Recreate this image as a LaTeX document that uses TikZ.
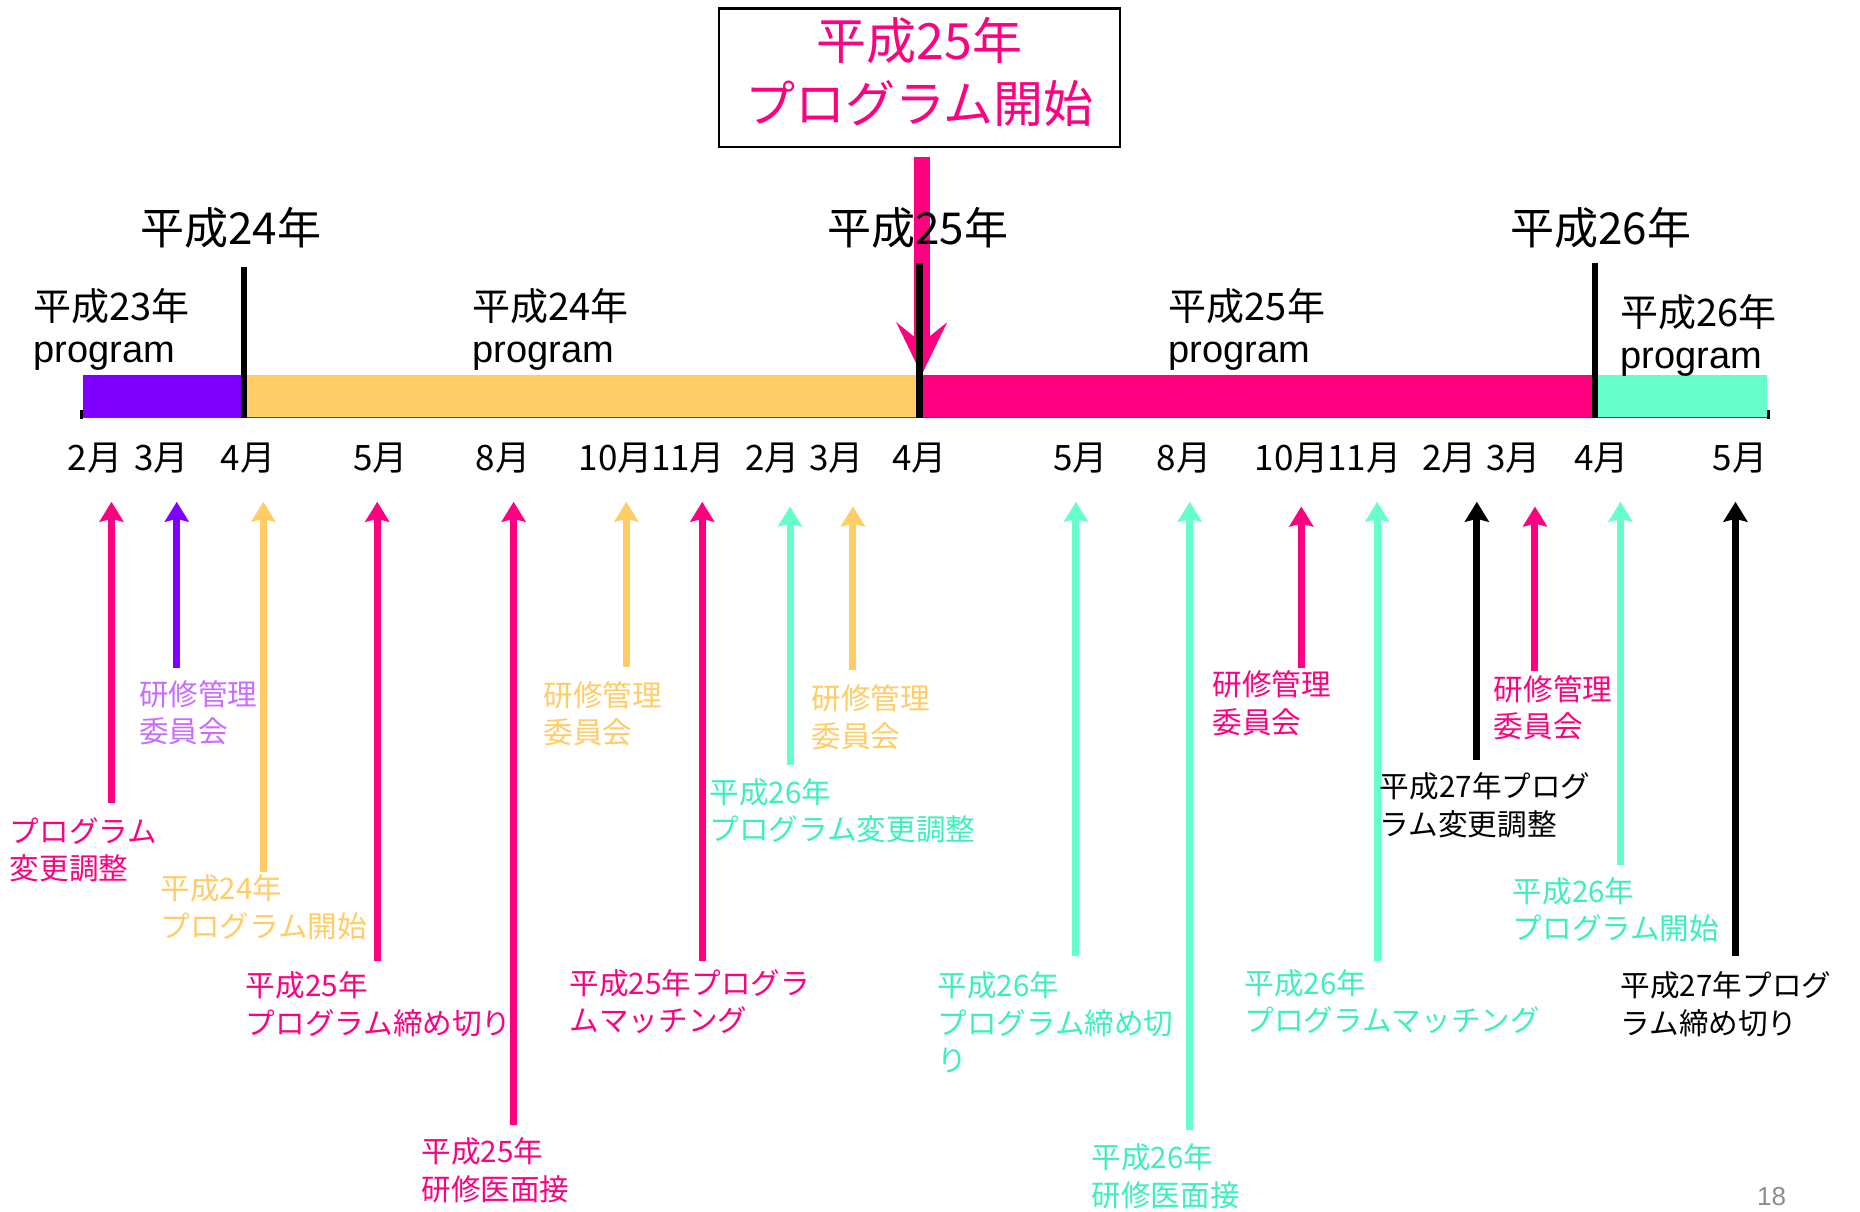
\documentclass[tikz,border=0pt]{standalone}
\usepackage{fontspec}
\setmainfont{Liberation Sans}
\newfontfamily\jp{Noto Sans CJK JP}
\usetikzlibrary{arrows.meta}
\definecolor{pinkc}{RGB}{255,0,128}
\definecolor{purpc}{RGB}{128,0,255}
\definecolor{purpt}{RGB}{200,110,255}
\definecolor{orangec}{RGB}{255,204,102}
\definecolor{tealc}{RGB}{102,255,204}
\definecolor{tealt}{RGB}{60,240,190}
\tikzset{
  arr/.style={line width=3.5pt,-{Stealth[length=10pt,width=12pt,inset=1.5pt]}},
  lbl/.style={anchor=north west,inner sep=0pt,align=left,font=\jp\fontsize{14.8}{18.7}\selectfont},
  month/.style={inner sep=0pt,font=\jp\fontsize{17.5}{20}\selectfont},
  yearlbl/.style={anchor=west,inner sep=0pt,font=\jp\fontsize{22}{26}\selectfont},
  proglbl/.style={anchor=north west,inner sep=0pt,align=left,font=\fontsize{19}{21}\selectfont},
  divider/.style={line width=3pt,black},
}
\begin{document}
\begin{tikzpicture}[x=0.5931pt,y=-0.5931pt]
\useasboundingbox (0,0) rectangle (1568,1021);
% title box
\node[draw=black,line width=1.2pt,minimum width=338*0.5931pt,minimum height=117*0.5931pt,inner sep=0pt] (title) at (775,65.5) {};
\node[align=center,inner sep=0pt,text=pinkc,font=\jp\fontsize{25}{31.4}\selectfont] (titletxt) at (775,61) {平成25年\\プログラム開始};
% big pink arrow
\coordinate (bigtop) at (777,132);
\coordinate (bigtip) at (777,316);
\draw[line width=8pt,pinkc,-{Stealth[length=26pt,width=25pt,inset=10pt]}] (bigtop) -- (bigtip);
% timeline bars
\fill[purpc] (70,316) rectangle (206,352);
\fill[orangec] (206,316) rectangle (775,352);
\fill[pinkc] (775,316) rectangle (1345,352);
\fill[tealc] (1345,316) rectangle (1490,352);
\coordinate (bl) at (68,352);
\coordinate (br) at (1492,352);
\draw[line width=0.9pt,black!70] (bl) -- (br);
\draw[line width=1.5pt,black] (69,346) -- (69,353) (1491,346) -- (1491,353);
% dividers
\coordinate (d1t) at (206,225); \coordinate (d1b) at (206,352);
\coordinate (d2t) at (775,222); \coordinate (d2b) at (775,352);
\coordinate (d3t) at (1345,222); \coordinate (d3b) at (1345,352);
\draw[divider] (d1t) -- (d1b);
\draw[divider,line width=3.5pt] (d2t) -- (d2b);
\draw[divider] (d3t) -- (d3b);
% year labels
\node[yearlbl] (y24) at (118,192) {平成24年};
\node[yearlbl] (y25) at (697,192) {平成25年};
\node[yearlbl] (y26) at (1273,192) {平成26年};
% program labels
\node[proglbl] (p23) at (28,243) {{\jp 平成23年}\\program};
\node[proglbl] (p24) at (398,243) {{\jp 平成24年}\\program};
\node[proglbl] (p25) at (985,243) {{\jp 平成25年}\\program};
\node[proglbl] (p26) at (1366,248) {{\jp 平成26年}\\program};
% months
\node[month] (m1) at (80,386) {2月};
\node[month] (m2) at (136,386) {3月};
\node[month] (m3) at (209,386) {4月};
\node[month] (m4) at (321,386) {5月};
\node[month] (m5) at (424,386) {8月};
\node[month] (m6) at (519,386) {10月};
\node[month] (m7) at (580,386) {11月};
\node[month] (m8) at (651,386) {2月};
\node[month] (m9) at (705,386) {3月};
\node[month] (m10) at (775,386) {4月};
\node[month] (m11) at (911,386) {5月};
\node[month] (m12) at (998,386) {8月};
\node[month] (m13) at (1089,386) {10月};
\node[month] (m14) at (1150,386) {11月};
\node[month] (m15) at (1222,386) {2月};
\node[month] (m16) at (1276,386) {3月};
\node[month] (m17) at (1350,386) {4月};
\node[month] (m18) at (1467,386) {5月};
% event arrows
\coordinate (a1t) at (94,423);   \coordinate (a1b) at (94,677);
\coordinate (a2t) at (149,423);  \coordinate (a2b) at (149,563);
\coordinate (a3t) at (222,423);  \coordinate (a3b) at (222,735);
\coordinate (a4t) at (318,423);  \coordinate (a4b) at (318,810);
\coordinate (a5t) at (433,423);  \coordinate (a5b) at (433,948);
\coordinate (a6t) at (528,423);  \coordinate (a6b) at (528,562);
\coordinate (a7t) at (592,423);  \coordinate (a7b) at (592,810);
\coordinate (a8t) at (666,427);  \coordinate (a8b) at (666,645);
\coordinate (a9t) at (719,427);  \coordinate (a9b) at (719,565);
\coordinate (a10t) at (907,423); \coordinate (a10b) at (907,806);
\coordinate (a11t) at (1003,423);\coordinate (a11b) at (1003,953);
\coordinate (a12t) at (1097,427);\coordinate (a12b) at (1097,563);
\coordinate (a13t) at (1161,423);\coordinate (a13b) at (1161,810);
\coordinate (a14t) at (1245,423);\coordinate (a14b) at (1245,641);
\coordinate (a15t) at (1294,427);\coordinate (a15b) at (1294,566);
\coordinate (a16t) at (1366,423);\coordinate (a16b) at (1366,729);
\coordinate (a17t) at (1463,423);\coordinate (a17b) at (1463,806);
\draw[arr,pinkc] (a1b) -- (a1t);
\draw[arr,purpc] (a2b) -- (a2t);
\draw[arr,orangec] (a3b) -- (a3t);
\draw[arr,pinkc] (a4b) -- (a4t);
\draw[arr,pinkc] (a5b) -- (a5t);
\draw[arr,orangec] (a6b) -- (a6t);
\draw[arr,pinkc] (a7b) -- (a7t);
\draw[arr,tealc] (a8b) -- (a8t);
\draw[arr,orangec] (a9b) -- (a9t);
\draw[arr,tealc] (a10b) -- (a10t);
\draw[arr,tealc] (a11b) -- (a11t);
\draw[arr,pinkc] (a12b) -- (a12t);
\draw[arr,tealc] (a13b) -- (a13t);
\draw[arr,black] (a14b) -- (a14t);
\draw[arr,pinkc] (a15b) -- (a15t);
\draw[arr,tealc] (a16b) -- (a16t);
\draw[arr,black] (a17b) -- (a17t);
% event labels
\node[lbl,text=pinkc] (l1) at (8,689) {プログラム\\変更調整};
\node[lbl,text=purpt] (l2) at (117,573) {研修管理\\委員会};
\node[lbl,text=orangec] (l3) at (135,737) {平成24年\\プログラム開始};
\node[lbl,text=pinkc] (l4) at (207,819) {平成25年\\プログラム締め切り};
\node[lbl,text=pinkc] (l5) at (355,959) {平成25年\\研修医面接};
\node[lbl,text=orangec] (l6) at (458,574) {研修管理\\委員会};
\node[lbl,text=pinkc] (l7) at (480,817) {平成25年プログラ\\ムマッチング};
\node[lbl,text=tealt] (l8) at (598,656) {平成26年\\プログラム変更調整};
\node[lbl,text=orangec] (l9) at (684,577) {研修管理\\委員会};
\node[lbl,text=tealt] (l10) at (790,819) {平成26年\\プログラム締め切\\り};
\node[lbl,text=tealt] (l11) at (920,964) {平成26年\\研修医面接};
\node[lbl,text=pinkc] (l12) at (1022,565) {研修管理\\委員会};
\node[lbl,text=tealt] (l13) at (1049,817) {平成26年\\プログラムマッチング};
\node[lbl,text=black] (l14) at (1163,651) {平成27年プログ\\ラム変更調整};
\node[lbl,text=pinkc] (l15) at (1259,569) {研修管理\\委員会};
\node[lbl,text=tealt] (l16) at (1275,739) {平成26年\\プログラム開始};
\node[lbl,text=black] (l17) at (1366,819) {平成27年プログ\\ラム締め切り};
% page number
\node[anchor=north west,inner sep=0pt,text=black!45,font=\fontsize{13}{15}\selectfont] (pg) at (1481,1001) {18};
\end{tikzpicture}
\end{document}
